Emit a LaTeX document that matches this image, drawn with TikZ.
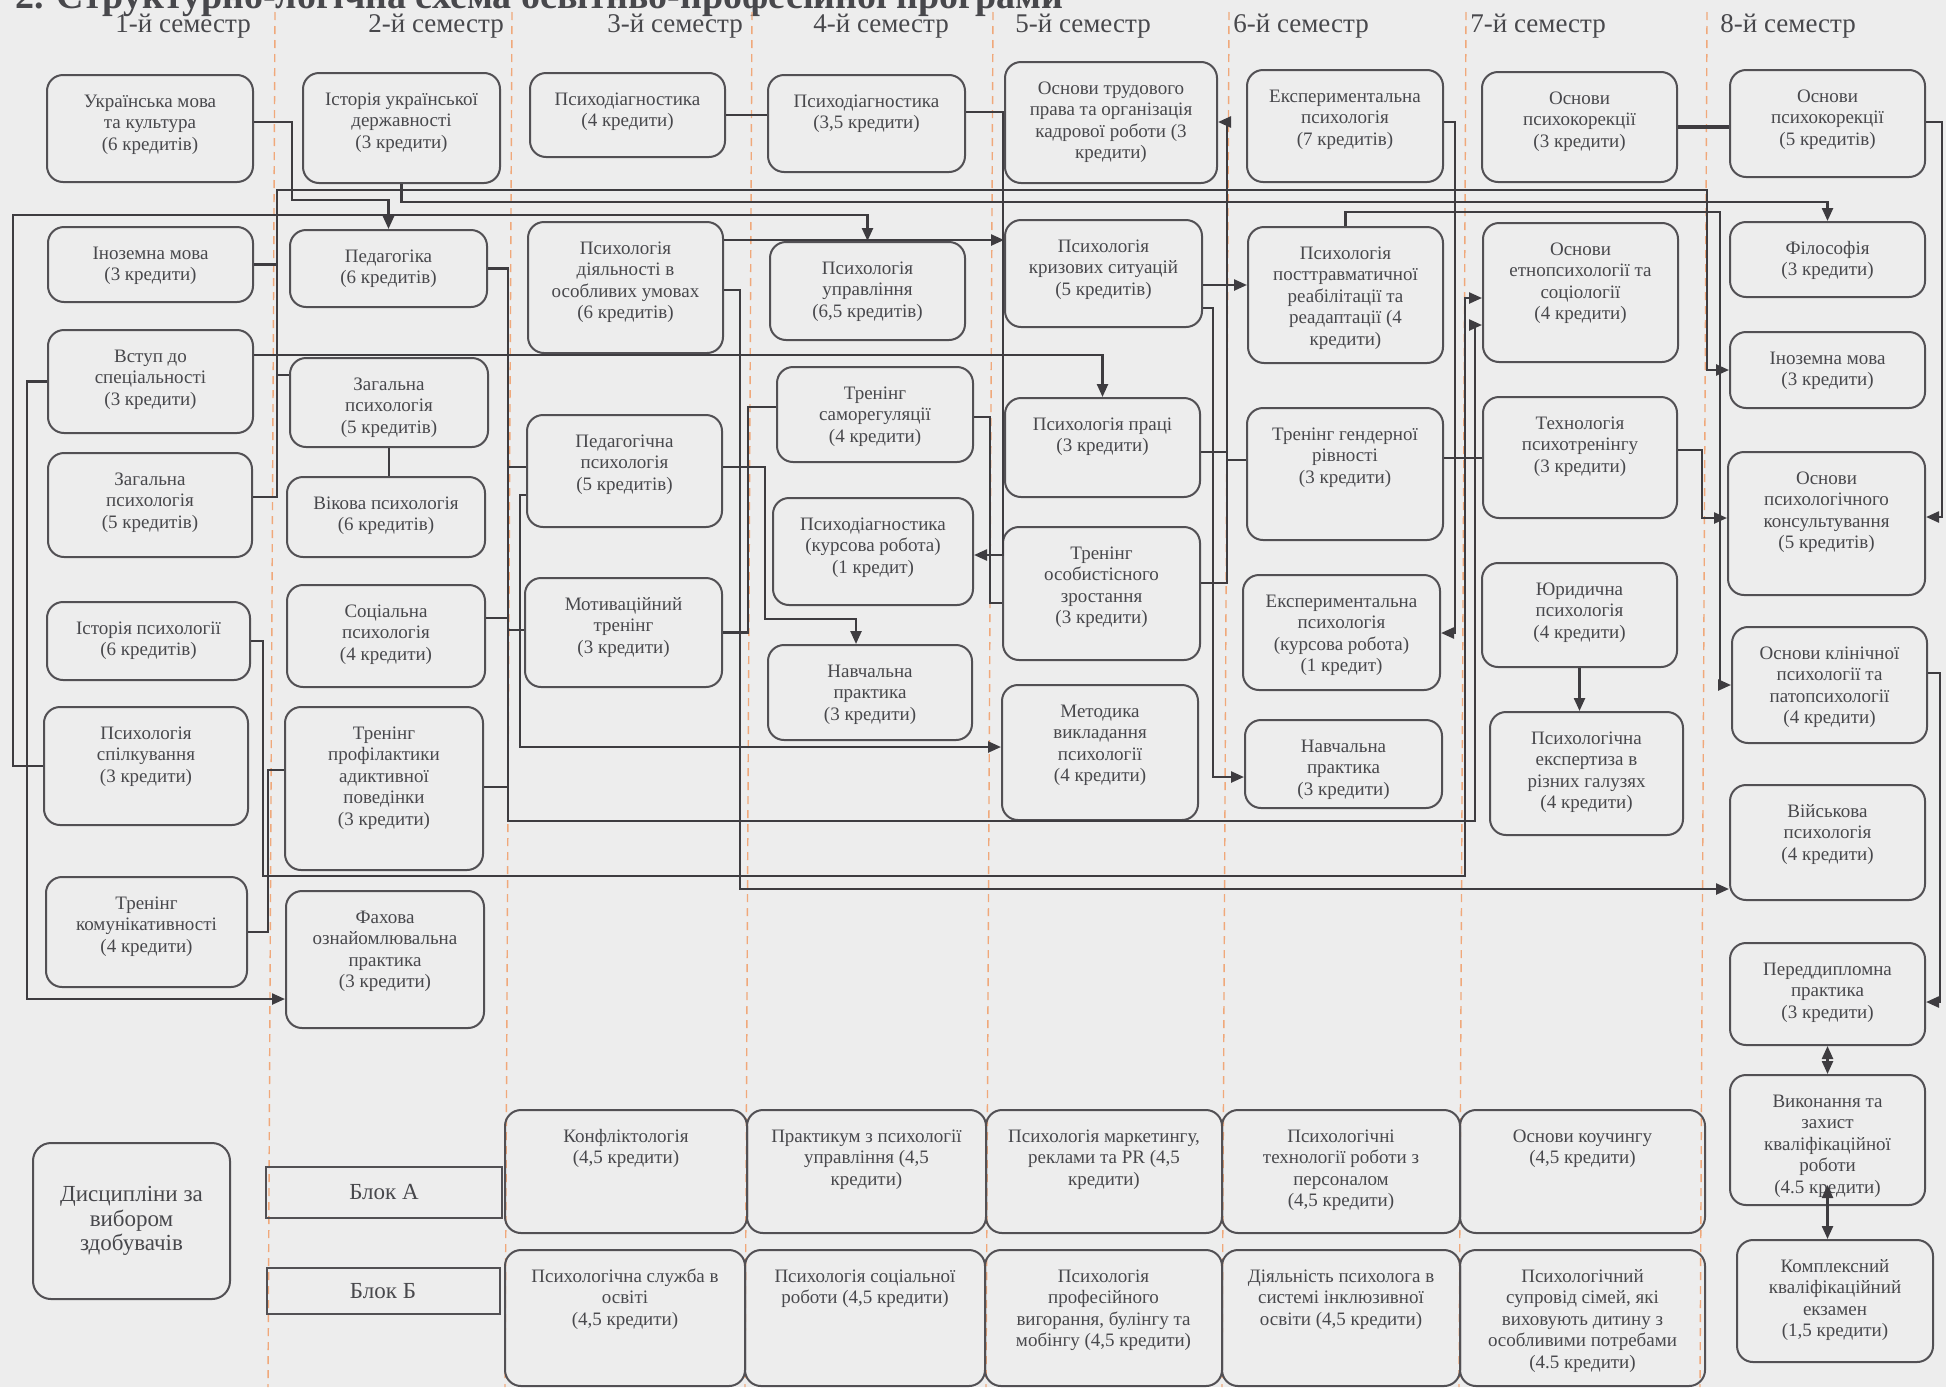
\documentclass[tikz,border=0pt]{standalone}
\usepackage{fontspec}
\setmainfont{Liberation Serif}
\usepackage{tikz}
\usetikzlibrary{arrows.meta}
\definecolor{paper}{RGB}{237,237,237}
\definecolor{boxline}{RGB}{82,80,84}
\definecolor{boxtext}{RGB}{72,72,76}
\definecolor{wire}{RGB}{62,60,64}
\definecolor{semline}{RGB}{240,168,122}
\tikzset{
	course/.style={draw=boxline, line width=1pt, rounded corners=8pt, inner sep=0pt, text=boxtext, font=\fontsize{9.5}{10.8}\selectfont},
	blok/.style={draw=boxline, line width=1pt, inner sep=0pt, text=boxtext, font=\fontsize{11.5}{13}\selectfont},
	choice/.style={draw=boxline, line width=1pt, rounded corners=9pt, inner sep=0pt, text=boxtext, align=center, font=\fontsize{11.5}{12.2}\selectfont},
	link/.style={draw=wire, line width=1.2pt},
	arr/.style={link, -{Triangle[length=6.5pt,width=5.5pt]}},
	dblarr/.style={link, {Triangle[length=6.5pt,width=5.5pt]}-{Triangle[length=6.5pt,width=5.5pt]}},
	semsep/.style={draw=semline, line width=0.7pt, dash pattern=on 4pt off 3pt},
	semhead/.style={anchor=base west, inner sep=0pt, text=boxtext, font=\fontsize{13.5}{15}\selectfont},
	headline/.style={anchor=base west, inner sep=0pt, text=boxtext, font=\fontsize{19}{21}\selectfont\bfseries}
}
\newcommand{\course}[6]{\node[course] (#1) at ({(#2+#4)/2},{(#3+#5)/2}) {\parbox[c][\dimexpr(#5pt-#3pt)/2\relax][t]{\dimexpr(#4pt-#2pt)/2\relax}{\centering\vskip 8.5pt\strut #6\par}};}

\begin{document}
\begin{tikzpicture}[x=0.5pt,y=-0.5pt]
		\useasboundingbox (0,0) rectangle (1946,1387);
		\fill[paper] (0,0) rectangle (1946,1387);
		\node[headline] (title) at (15,8) {2. Структурно-логічна схема освітньо-професійної програми};
		\foreach \x in {275,512,752,993,1229,1466,1707}
			\draw[semsep] (\x,12) -- (\x-7,1387);
		\foreach \x [count=\i] in {115,368,607,813,1015,1233,1470,1720}
			\node[semhead] (sem\i) at (\x,32) {\i-й семестр};
		
		\course{ukr}{47}{75}{253}{182}{Українська мова\\та культура\\(6 кредитів)}
		\course{inozA}{48}{227}{253}{302}{Іноземна мова\\(3 кредити)}
		\course{vstup}{48}{330}{253}{433}{Вступ до\\спеціальності\\(3 кредити)}
		\course{zagA}{48}{453}{252}{557}{Загальна\\психологія\\(5 кредитів)}
		\course{istps}{47}{602}{250}{680}{Історія психології\\(6 кредитів)}
		\course{spilk}{44}{707}{248}{825}{Психологія\\спілкування\\(3 кредити)}
		\course{komun}{46}{877}{247}{987}{Тренінг\\комунікативності\\(4 кредити)}
		
		\course{istukr}{303}{73}{500}{183}{Історія української\\державності\\(3 кредити)}
		\course{pedag}{290}{230}{487}{307}{Педагогіка\\(6 кредитів)}
		\course{zagB}{290}{358}{488}{447}{Загальна\\психологія\\(5 кредитів)}
		\course{vikova}{287}{477}{485}{557}{Вікова психологія\\(6 кредитів)}
		\course{socps}{287}{585}{485}{687}{Соціальна\\психологія\\(4 кредити)}
		\course{adikt}{285}{707}{483}{870}{Тренінг\\профілактики\\адиктивної\\поведінки\\(3 кредити)}
		\course{fakh}{286}{891}{484}{1028}{Фахова\\ознайомлювальна\\практика\\(3 кредити)}
		
		\course{diagC}{530}{73}{725}{157}{Психодіагностика\\(4 кредити)}
		\course{diyal}{528}{222}{723}{353}{Психологія\\діяльності в\\особливих умовах\\(6 кредитів)}
		\course{pedps}{527}{415}{722}{527}{Педагогічна\\психологія\\(5 кредитів)}
		\course{motiv}{525}{578}{722}{687}{Мотиваційний\\тренінг\\(3 кредити)}
		
		\course{diagD}{768}{75}{965}{172}{Психодіагностика\\(3,5 кредити)}
		\course{uprav}{770}{242}{965}{340}{Психологія\\управління\\(6,5 кредитів)}
		\course{samoreg}{777}{367}{973}{462}{Тренінг\\саморегуляції\\(4 кредити)}
		\course{kursD}{773}{498}{973}{605}{Психодіагностика\\(курсова робота)\\(1 кредит)}
		\course{praktD}{768}{645}{972}{740}{Навчальна\\практика\\(3 кредити)}
		
		\course{trud}{1005}{62}{1217}{183}{Основи трудового\\права та організація\\кадрової роботи (3\\кредити)}
		\course{kryz}{1005}{220}{1202}{327}{Психологія\\кризових ситуацій\\(5 кредитів)}
		\course{praci}{1005}{398}{1200}{497}{Психологія праці\\(3 кредити)}
		\course{osob}{1003}{527}{1200}{660}{Тренінг\\особистісного\\зростання\\(3 кредити)}
		\course{metod}{1002}{685}{1198}{820}{Методика\\викладання\\психології\\(4 кредити)}
		
		\course{eksp}{1247}{70}{1443}{182}{Експериментальна\\психологія\\(7 кредитів)}
		\course{posttr}{1248}{227}{1443}{363}{Психологія\\посттравматичної\\реабілітації та\\реадаптації (4\\кредити)}
		\course{gender}{1247}{408}{1443}{540}{Тренінг гендерної\\рівності\\(3 кредити)}
		\course{ekspk}{1243}{575}{1440}{690}{Експериментальна\\психологія\\(курсова робота)\\(1 кредит)}
		\course{praktF}{1245}{720}{1442}{808}{Навчальна\\практика\\(3 кредити)}
		
		\course{korekG}{1482}{72}{1677}{182}{Основи\\психокорекції\\(3 кредити)}
		\course{etno}{1483}{223}{1678}{362}{Основи\\етнопсихології та\\соціології\\(4 кредити)}
		\course{psytr}{1483}{397}{1677}{518}{Технологія\\психотренінгу\\(3 кредити)}
		\course{yuryd}{1482}{563}{1677}{667}{Юридична\\психологія\\(4 кредити)}
		\course{ekspert}{1490}{712}{1683}{835}{Психологічна\\експертиза в\\різних галузях\\(4 кредити)}
		
		\course{korekH}{1730}{70}{1925}{177}{Основи\\психокорекції\\(5 кредитів)}
		\course{filos}{1730}{222}{1925}{297}{Філософія\\(3 кредити)}
		\course{inozH}{1730}{332}{1925}{408}{Іноземна мова\\(3 кредити)}
		\course{konsult}{1728}{452}{1925}{595}{Основи\\психологічного\\консультування\\(5 кредитів)}
		\course{klin}{1732}{627}{1927}{743}{Основи клінічної\\психології та\\патопсихології\\(4 кредити)}
		\course{viysk}{1730}{785}{1925}{900}{Військова\\психологія\\(4 кредити)}
		\course{peredd}{1730}{943}{1925}{1045}{Переддипломна\\практика\\(3 кредити)}
		\course{vykon}{1730}{1075}{1925}{1205}{Виконання та\\захист\\кваліфікаційної\\роботи\\(4.5 кредити)}
		\course{kompl}{1737}{1240}{1933}{1362}{Комплексний\\кваліфікаційний\\екзамен\\(1,5 кредити)}
		
		\node[choice, minimum width=98.5pt, minimum height=78pt] (vybir) at (131.5,1221) {Дисципліни за\\вибором\\здобувачів};
		\node[blok, minimum width=118pt, minimum height=25.5pt] (blokA) at (384,1192) {Блок А};
		\node[blok, minimum width=116.5pt, minimum height=23pt] (blokB) at (383,1291) {Блок Б};
		\course{konfl}{505}{1110}{747}{1233}{Конфліктологія\\(4,5 кредити)}
		\course{praktk}{747}{1110}{986}{1233}{Практикум з психології\\управління (4,5\\кредити)}
		\course{market}{986}{1110}{1222}{1233}{Психологія маркетингу,\\реклами та PR (4,5\\кредити)}
		\course{personal}{1222}{1110}{1460}{1233}{Психологічні\\технології роботи з\\персоналом\\(4,5 кредити)}
		\course{kouch}{1460}{1110}{1705}{1233}{Основи коучингу\\(4,5 кредити)}
		\course{sluzhba}{505}{1250}{745}{1386}{Психологічна служба в\\освіті\\(4,5 кредити)}
		\course{socrob}{745}{1250}{985}{1386}{Психологія соціальної\\роботи (4,5 кредити)}
		\course{vyhor}{985}{1250}{1222}{1386}{Психологія\\професійного\\вигорання, булінгу та\\мобінгу (4,5 кредити)}
		\course{inkl}{1222}{1250}{1460}{1386}{Діяльність психолога в\\системі інклюзивної\\освіти (4,5 кредити)}
		\course{suprov}{1460}{1250}{1705}{1386}{Психологічний\\супровід сімей, які\\виховують дитину з\\особливими потребами\\(4.5 кредити)}
		
		\draw[arr] (ukr.east |- 0,122) -| (292,200) -| (pedag.north);
		\draw[arr] (inozA.east) -| (277,190) -- (1707,190) |- (inozH.west);
		\draw[link] (zagA.east |- 0,497) -| (inozA.east -| 277,0);
		\draw[link] (zagB.west |- 0,375) -- ++(-13,0);
		\draw[link] (zagB.south) -- (zagB.south |- vikova.north);
		\draw[arr] (vstup.west) -| (27,999) -- (fakh.west |- 0,999);
		\draw[arr] (vstup.east |- 0,355) -| (praci.north);
		\draw[arr] (spilk.west) -| (13,215) -| (uprav.north);
		\draw[arr] (istukr.south) |- (filos.north |- 0,202) -- (filos.north);
		\draw[arr] (istps.east) -| (263,876) -| (1465,298) -- (etno.west |- 0,298);
		\draw[arr] (pedag.east) -| (508,821) -| (1475,325) -- (etno.west |- 0,325);
		\draw[link] (socps.east |- 0,618) -| (508,467) -- (pedps.west |- 0,467);
		\draw[link] (adikt.east |- 0,787) -| (508,630) -- (motiv.west |- 0,630);
		\draw[link] (komun.east) -| (268,770) -- (adikt.west |- 0,770);
		\draw[arr] (pedps.west |- 0,495) -| (520,747) -- (metod.west |- 0,747);
		
		\draw[link] (diagC.east) -- (diagD.west |- diagC.east);
		\draw[arr] (diagD.east |- 0,112) -| (1003,555) -- (kursD.east |- 0,555);
		\draw[arr] (diyal.east |- 0,240) -- (kryz.west |- 0,240);
		\draw[arr] (diyal.east |- 0,290) -| (740,889) -- (viysk.west |- 0,889);
		\draw[link] (motiv.east) -| (748,407) -- (samoreg.west |- 0,407);
		\draw[arr] (pedps.east |- 0,467) -| (765,619) -| ([xshift=-7pt]praktD.north);
		\draw[link] (samoreg.east |- 0,417) -| (990,603) -- (osob.west |- 0,603);
		
		\draw[arr] (kryz.east |- 0,285) -- (posttr.west |- 0,285);
		\draw[arr] (kryz.east |- 0,308) -| (1213,777) -- (praktF.west |- 0,777);
		\draw[arr] (osob.east |- 0,583) -| (1227,122) -- (trud.east |- 0,122);
		\draw[link] (praci.east |- 0,452) -| (1227,460) -- (gender.west |- 0,460);
		\draw[arr] (eksp.east |- 0,122) -| (1455,633) -- (ekspk.east |- 0,633);
		\draw[arr] (posttr.north) |- (1720,212) |- (klin.west);
		\draw[link] (gender.east |- 0,458) -- (psytr.west |- 0,458);
		
		\draw[arr] (yuryd.south) -- (yuryd.south |- ekspert.north);
		\draw[link, line width=1.8pt] (korekG.east) -- (korekH.west |- korekG.east);
		\draw[arr] (korekH.east |- 0,122) -| (1942,517) -- (konsult.east |- 0,517);
		\draw[arr] (psytr.east |- 0,450) -| (1702,518) -- (konsult.west |- 0,518);
		\draw[arr] (klin.east |- 0,673) -| (1940,1002) -- (peredd.east |- 0,1002);
		\draw[dblarr] (peredd.south) -- (vykon.north);
		\draw[dblarr] (vykon.south |- 0,1185) -- (vykon.south |- kompl.north);
		
		\end{tikzpicture}
\end{document}
